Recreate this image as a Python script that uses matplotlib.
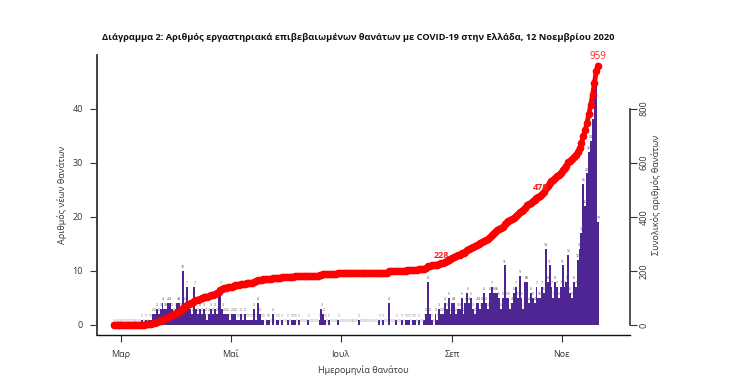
import numpy as np
import matplotlib.pyplot as plt

plt.rcParams['font.family'] = ['Open Sans', 'DejaVu Sans']

# daily deaths, 26 Feb - 11 Nov 2020
feb = [0, 0, 0, 0]
mar = [0] * 11 + [1, 0, 1, 0, 1, 1, 2, 2, 3, 2, 3, 4, 3, 3, 4, 4, 3, 2, 3, 4]
apr = [4, 3, 10, 4, 7, 3, 3, 2, 7, 3, 2, 3, 2, 3, 2, 1, 2, 3, 2, 3,
       2, 6, 7, 3, 2, 2, 2, 1, 2, 2]
may = [2, 1, 1, 2, 1, 2, 1, 1, 1, 1, 3, 1, 4, 2, 1, 1, 0, 1, 1, 0,
       2, 0, 1, 1, 0, 1, 0, 0, 1, 0, 1]
jun = [1, 1, 0, 1, 0, 0, 0, 0, 1, 0, 0, 0, 0, 0, 1, 3, 2, 1, 0, 1,
       0, 0, 0, 0, 1, 0, 0, 0, 0, 0]
jul = [0, 0, 0, 0, 0, 1, 0, 0, 0, 0, 0, 0, 0, 0, 0, 0, 1, 0, 1, 0,
       0, 4, 0, 0, 0, 1, 0, 0, 1, 0, 1]
aug = [1, 1, 0, 1, 1, 0, 1, 0, 0, 1, 2, 8, 2, 1, 0, 2, 1, 3, 2,
       2, 4, 3, 5, 2, 4, 4, 2, 3, 3, 5, 2]
sep = [4, 6, 4, 5, 3, 2, 4, 4, 3, 4, 6, 4, 3, 6, 7, 6, 6, 6, 5, 3,
       5, 11, 5, 5, 3, 4, 6, 7, 5, 9]
oct_ = [5, 3, 8, 8, 4, 6, 5, 4, 7, 5, 5, 7, 6, 14, 8, 11, 7, 5, 8, 7,
        5, 7, 11, 7, 8, 13, 6, 5, 8, 7, 12]
nov = [14, 17, 26, 22, 28, 32, 34, 38, 44, 45, 19]

month_names = ['Μαρ', 'Μαΐ', 'Ιουλ', 'Σεπ', 'Νοε']
marked_totals = [228, 478]

daily = np.array(feb + mar + apr + may + jun + jul + aug + sep + oct_ + nov)
cum = np.cumsum(daily)
days = np.arange(len(daily))

# first day of Mar, May, Jul, Sep, Nov as bar index
month_start = np.cumsum([0, len(feb), len(mar) + len(apr), len(may) + len(jun),
                         len(jul) + len(aug), len(sep) + len(oct_)])[1:]
# the original date axis drifts a little against the bars
tick_pos = month_start * 0.962

fig = plt.figure(figsize=(7.31, 3.89), dpi=100)
W, H = 731, 389
ax = fig.add_axes([97 / W, (H - 335) / H, (630 - 97) / W, (335 - 55) / H])

ax.bar(days, daily, width=1.0, color='#4d2694', edgecolor='none', zorder=2)
for d, v in zip(days, daily):
    ax.text(d, v + 0.35, str(v), fontsize=2.3, ha='center', va='bottom',
            color='#999999' if v == 0 else '#444444', zorder=3)

ax.set_xlim(-9, 276)
ax.set_ylim(-1.85, 49.9)
ax.set_yticks([0, 10, 20, 30, 40])
ax.set_xticks(tick_pos)
ax.set_xticklabels(month_names, fontsize=6.5, color='#333333')
ax.tick_params(axis='x', length=5, pad=6, color='#333333')
ax.tick_params(axis='y', length=5, pad=5, labelsize=6.5, labelcolor='#333333',
               color='#333333')
for s in ['top', 'right']:
    ax.spines[s].set_visible(False)
ax.spines['left'].set_color('#333333')
ax.spines['bottom'].set_color('#111111')
ax.spines['left'].set_linewidth(1.3)
ax.spines['bottom'].set_linewidth(1.0)
ax.set_ylabel('Αριθμός νέων θανάτων', fontsize=6.5, color='#333333', labelpad=4)
ax.set_xlabel('Ημερομηνία θανάτου', fontsize=6.5, color='#333333', labelpad=4)

ax2 = ax.twinx()
ax2.plot(days, cum, color='#ff0000', lw=3.5, marker='o', markersize=5.5,
         markeredgewidth=0, zorder=4)
ax2.set_ylim(-37, 998)
ax2.set_yticks([0, 200, 400, 600, 800])
ax2.tick_params(axis='y', length=5, pad=2, labelsize=6.5, labelcolor='#333333',
                color='#333333', labelrotation=90)
for lab in ax2.get_yticklabels():
    lab.set_va('center')
for s in ['top', 'left', 'bottom']:
    ax2.spines[s].set_visible(False)
ax2.spines['right'].set_bounds(0, 800)
ax2.spines['right'].set_color('#444444')
ax2.spines['right'].set_linewidth(1.3)
ax2.set_ylabel('Συνολικός αριθμός θανάτων', fontsize=6.5, color='#333333',
               rotation=90, labelpad=2)

for total in marked_totals:
    i = int(np.argmax(cum >= total))
    ax2.text(days[i], cum[i] + 14, str(total), fontsize=6.5, color='#ff2020',
             ha='center', va='bottom', fontweight='bold', zorder=5)
ax2.text(days[-1], cum[-1] + 12, str(cum[-1]), fontsize=7, color='#ff2020',
         ha='center', va='bottom', zorder=5)

fig.text(358 / W, 1 - 38 / H,
         'Διάγραμμα 2: Αριθμός εργαστηριακά επιβεβαιωμένων θανάτων με COVID-19 '
         'στην Ελλάδα, 12 Νοεμβρίου 2020',
         fontsize=6.65, fontweight='bold', ha='center', va='center', color='#111111')

fig.savefig('out.png', dpi=100, facecolor='white')
